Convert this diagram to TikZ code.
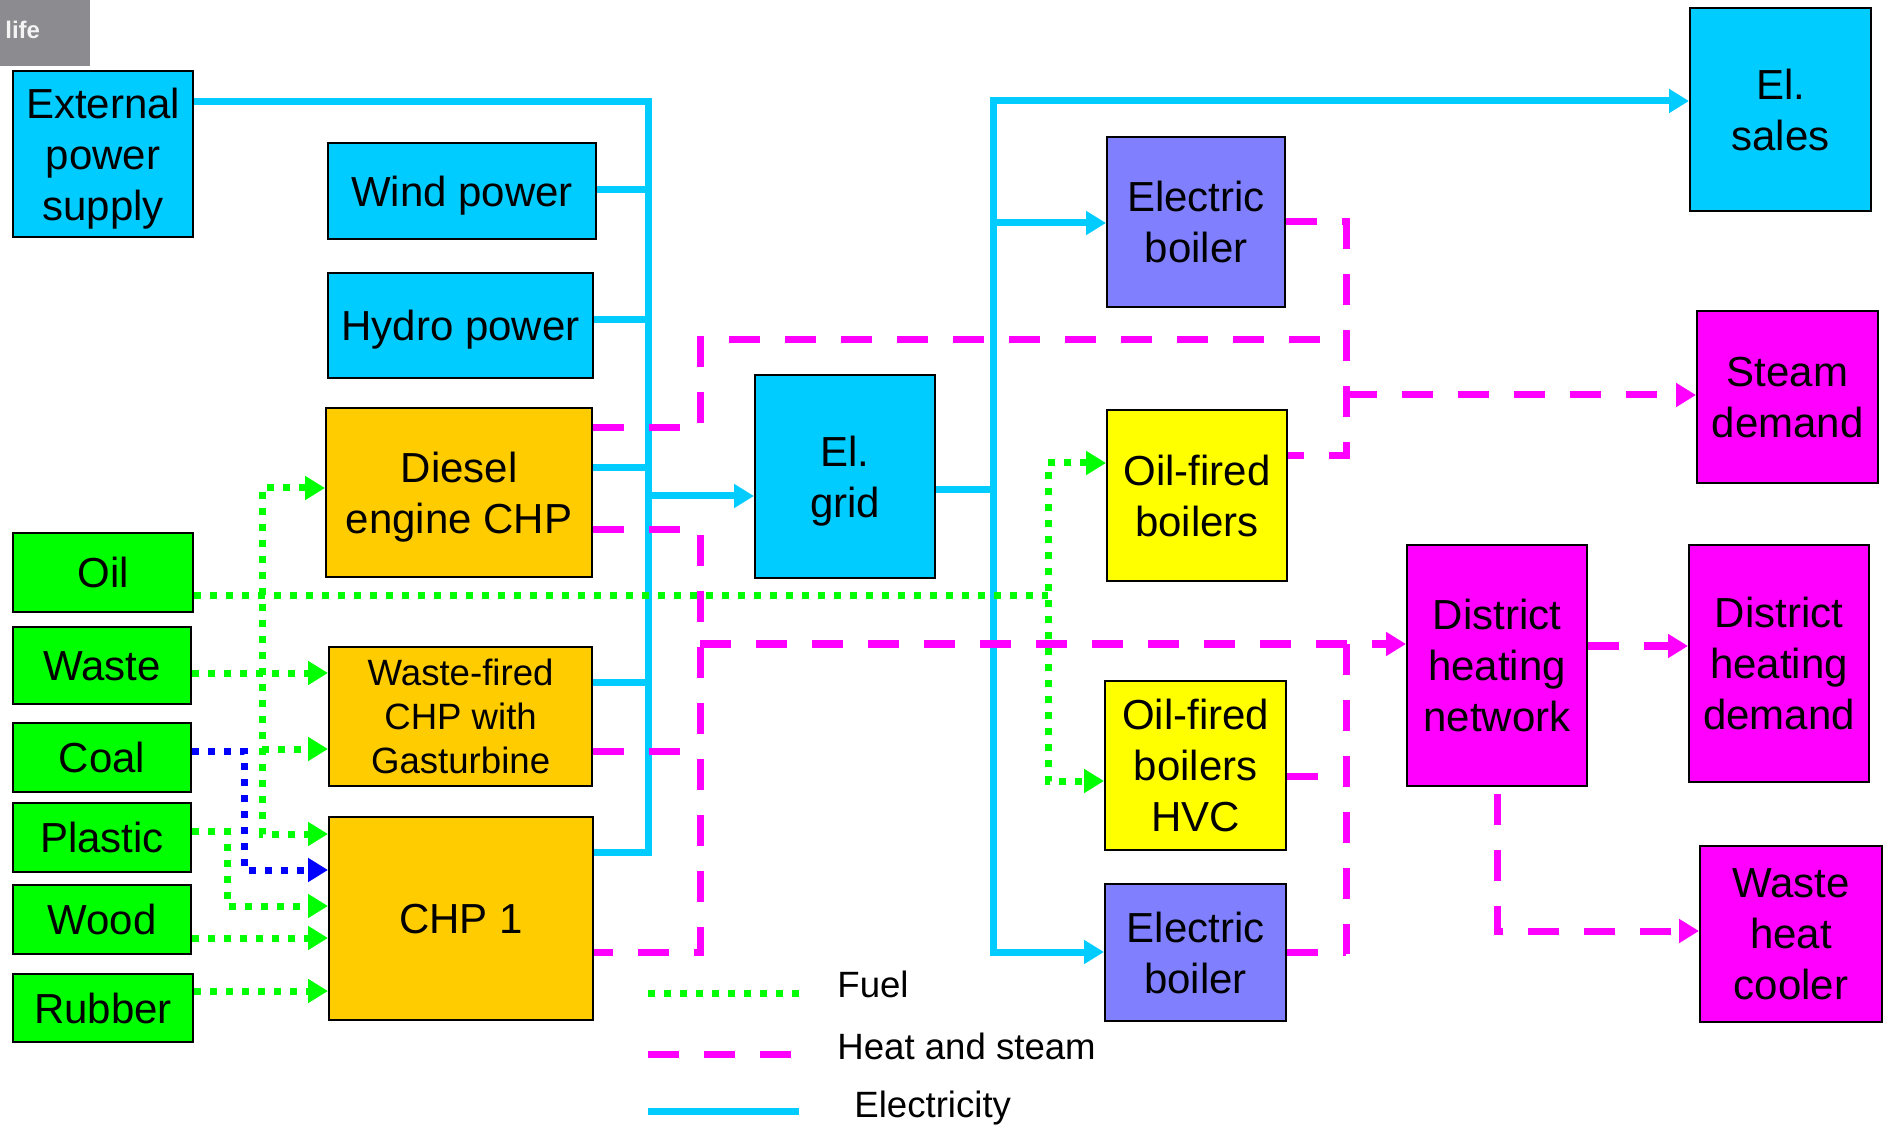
\documentclass[tikz,border=0pt]{standalone}
\usepackage{fontspec}
\setmainfont{Liberation Sans}
\usetikzlibrary{arrows.meta}
\definecolor{cy}{HTML}{00CCFF}
\definecolor{orng}{HTML}{FFCC00}
\definecolor{gr}{HTML}{00FF00}
\definecolor{mg}{HTML}{FF00FF}
\definecolor{yl}{HTML}{FFFF00}
\definecolor{pu}{HTML}{8080FF}
\definecolor{bl}{HTML}{0000FF}
\definecolor{lifegrey}{HTML}{8C8C90}
\newcommand\boxfont{\fontsize{21pt}{25.5pt}\selectfont}
\newcommand\smboxfont{\fontsize{18.3pt}{22pt}\selectfont}
\newcommand\legfont{\fontsize{18.3pt}{22pt}\selectfont}
\newcommand\logofont{\fontsize{12pt}{14pt}\selectfont\bfseries}
\begin{document}
\begin{tikzpicture}[x=0.5pt,y=-0.5pt,
  box/.style={draw=black, line width=1.1pt, inner sep=0pt, align=center, font=\boxfont, text=black, text depth=0pt, anchor=north west},
  elec/.style={draw=cy, line width=3.5pt},
  heat/.style={draw=mg, line width=3.5pt, dash pattern=on 15.5pt off 12.5pt},
  fuel/.style={draw=gr, line width=3.5pt, dash pattern=on 3.5pt off 4.5pt},
  coalfuel/.style={draw=bl, line width=3.5pt, dash pattern=on 3.5pt off 4.5pt},
  arrowend/.style={-{Triangle[length=10pt,width=11.5pt]}},
  arrowboth/.style={{Triangle[length=10pt,width=11.5pt]}-{Triangle[length=10pt,width=11.5pt]}},
]
\useasboundingbox (0,0) rectangle (1883,1127);

% logo corner
\node[fill=lifegrey, anchor=north west, minimum width=45pt, minimum height=33pt, inner sep=0pt] (logo) at (0,0) {};
\node[anchor=base west, text=white!90!lifegrey, font=\logofont, inner sep=0pt] (logotext) at (5,39) {life};

% ---------- boxes ----------
\node[box, fill=cy, minimum width=90pt, minimum height=83pt] (ext) at (12,70) {External\\power\\supply};
\node[box, fill=cy, minimum width=134pt, minimum height=48pt] (wind) at (327,142) {Wind power};
\node[box, fill=cy, minimum width=132.5pt, minimum height=52.5pt] (hydro) at (327,272) {Hydro power};
\node[box, fill=orng, minimum width=133pt, minimum height=84.5pt] (diesel) at (325,407) {Diesel\\engine CHP};
\node[box, fill=orng, minimum width=131.5pt, minimum height=69.5pt, font=\smboxfont] (wfchp) at (328,646) {Waste-fired\\CHP with\\Gasturbine};
\node[box, fill=orng, minimum width=132pt, minimum height=101.5pt] (chp1) at (328,816) {CHP 1};

\node[box, fill=gr, minimum width=90pt, minimum height=39.5pt] (oil) at (12,532) {Oil};
\node[box, fill=gr, minimum width=89pt, minimum height=38.5pt] (waste) at (12,626) {Waste};
\node[box, fill=gr, minimum width=89pt, minimum height=34.5pt] (coal) at (12,722) {Coal};
\node[box, fill=gr, minimum width=89pt, minimum height=34.5pt] (plastic) at (12,802) {Plastic};
\node[box, fill=gr, minimum width=89pt, minimum height=34.5pt] (wood) at (12,884) {Wood};
\node[box, fill=gr, minimum width=90pt, minimum height=34pt] (rubber) at (12,973) {Rubber};

\node[box, fill=cy, minimum width=90pt, minimum height=101.5pt] (grid) at (754,374) {El.\\grid};
\node[box, fill=pu, minimum width=89pt, minimum height=85pt] (elb1) at (1106,136) {Electric\\boiler};
\node[box, fill=yl, minimum width=90pt, minimum height=85.5pt] (ofb) at (1106,409) {Oil-fired\\boilers};
\node[box, fill=yl, minimum width=90.5pt, minimum height=84.5pt] (hvc) at (1104,680) {Oil-fired\\boilers\\HVC};
\node[box, fill=pu, minimum width=90.5pt, minimum height=68.5pt] (elb2) at (1104,883) {Electric\\boiler};

\node[box, fill=cy, minimum width=90.5pt, minimum height=101.5pt] (sales) at (1689,7) {El.\\sales};
\node[box, fill=mg, minimum width=90.5pt, minimum height=86pt] (steam) at (1696,310) {Steam\\demand};
\node[box, fill=mg, minimum width=90pt, minimum height=120.5pt] (dhn) at (1406,544) {District\\heating\\network};
\node[box, fill=mg, minimum width=90pt, minimum height=118.5pt] (dhd) at (1688,544) {District\\heating\\demand};
\node[box, fill=mg, minimum width=91pt, minimum height=88pt] (whc) at (1699,845) {Waste\\heat\\cooler};

% ---------- electricity ----------
\coordinate (eb1t) at (648,102);
\coordinate (eb1w) at (648,190);
\coordinate (eb1h) at (648,320);
\coordinate (eb1d) at (648,468);
\coordinate (eb1g) at (648,496);
\coordinate (eb1f) at (648,682);
\coordinate (eb1c) at (648,852);
\draw[elec] (ext.east |- eb1t) -- (eb1t) -- (eb1c) -- (chp1.east |- eb1c);
\draw[elec] (wind.east |- eb1w) -- (eb1w);
\draw[elec] (hydro.east |- eb1h) -- (eb1h);
\draw[elec] (diesel.east |- eb1d) -- (eb1d);
\draw[elec] (wfchp.east |- eb1f) -- (eb1f);
\draw[elec, arrowend] (eb1g) -- (grid.west |- eb1g);

\coordinate (eb2t) at (993,101);
\coordinate (eb2a) at (993,223);
\coordinate (eb2g) at (993,490);
\coordinate (eb2b) at (993,952);
\draw[elec, arrowboth] (elb2.west |- eb2b) -- (eb2b) -- (eb2t) -- (sales.west |- eb2t);
\draw[elec] (grid.east |- eb2g) -- (eb2g);
\draw[elec, arrowend] (eb2a) -- (elb1.west |- eb2a);

% ---------- heat and steam ----------
\coordinate (h1) at (700,428);
\coordinate (h1t) at (700,340);
\coordinate (hst) at (1346,340);
\draw[heat] (diesel.east |- h1) -- (h1) -- (h1t) -- (hst);
\coordinate (hsa) at (1346,222);
\coordinate (hsb) at (1346,456);
\coordinate (hsj) at (1346,395);
\draw[heat] (elb1.east |- hsa) -- (hsa) -- (hsb) -- (ofb.east |- hsb);
\draw[heat, arrowend] (hsj) -- (steam.west |- hsj);

\coordinate (h2) at (700,530);
\coordinate (h2b) at (700,952);
\coordinate (h2w) at (700,751);
\coordinate (h2j) at (700,644);
\draw[heat] (diesel.east |- h2) -- (h2) -- (h2b) -- (chp1.east |- h2b);
\draw[heat] (wfchp.east |- h2w) -- (h2w);
\draw[heat, arrowend] (h2j) -- (dhn.west |- h2j);
\coordinate (h3t) at (1346,644);
\coordinate (h3b) at (1346,954);
\coordinate (h3v) at (1346,776);
\coordinate (h3e) at (1346,952);
\draw[heat] (h3t) -- (h3b);
\draw[heat] (hvc.east |- h3v) -- (h3v);
\draw[heat] (elb2.east |- h3e) -- (h3e);

\coordinate (d1) at (1586,646);
\draw[heat, arrowend] (dhn.east |- d1) -- (dhd.west |- d1);
\coordinate (d2t) at (1497,794);
\coordinate (d2) at (1497,931);
\draw[heat, arrowend] (d2t) -- (d2) -- (whc.west |- d2);

% ---------- fuel ----------
\coordinate (fo) at (1048,596);
\coordinate (fo1) at (1048,463);
\coordinate (fo2) at (1048,781);
\draw[fuel] (oil.east |- fo) -- (fo);
\draw[fuel, arrowboth] (ofb.west |- fo1) -- (fo1) -- (fo2) -- (hvc.west |- fo2);

\coordinate (g1) at (262,488);
\coordinate (g2) at (262,749);
\coordinate (g3) at (262,834);
\draw[fuel, arrowboth] (diesel.west |- g1) -- (g1) -- (g3) -- (chp1.west |- g3);
\draw[fuel, arrowend] (g2) -- (wfchp.west |- g2);

\coordinate (fwy) at (262,673);
\draw[fuel, arrowend] (waste.east |- fwy) -- (wfchp.west |- fwy);

\coordinate (c1) at (244,751);
\coordinate (c2) at (244,870);
\draw[coalfuel, arrowend] (coal.east |- c1) -- (c1) -- (c2) -- (chp1.west |- c2);

\coordinate (p1) at (227,831);
\coordinate (p2) at (227,906);
\draw[fuel, arrowend] (plastic.east |- p1) -- (p1) -- (p2) -- (chp1.west |- p2);

\coordinate (wy) at (262,938);
\draw[fuel, arrowend] (wood.east |- wy) -- (chp1.west |- wy);
\coordinate (ry) at (262,991);
\draw[fuel, arrowend] (rubber.east |- ry) -- (chp1.west |- ry);

% ---------- legend ----------
\coordinate (lf1) at (648,993);
\coordinate (lf2) at (799,993);
\draw[fuel] (lf1) -- (lf2);
\coordinate (lh1) at (648,1054);
\coordinate (lh2) at (791,1054);
\draw[heat] (lh1) -- (lh2);
\coordinate (le1) at (648,1111);
\coordinate (le2) at (799,1111);
\draw[elec] (le1) -- (le2);
\node[anchor=base west, font=\legfont, inner sep=0pt] (lfuel) at (837,997) {Fuel};
\node[anchor=base west, font=\legfont, inner sep=0pt] (lheat) at (837,1059) {Heat and steam};
\node[anchor=base west, font=\legfont, inner sep=0pt] (lelec) at (854,1117) {Electricity};
\end{tikzpicture}
\end{document}
